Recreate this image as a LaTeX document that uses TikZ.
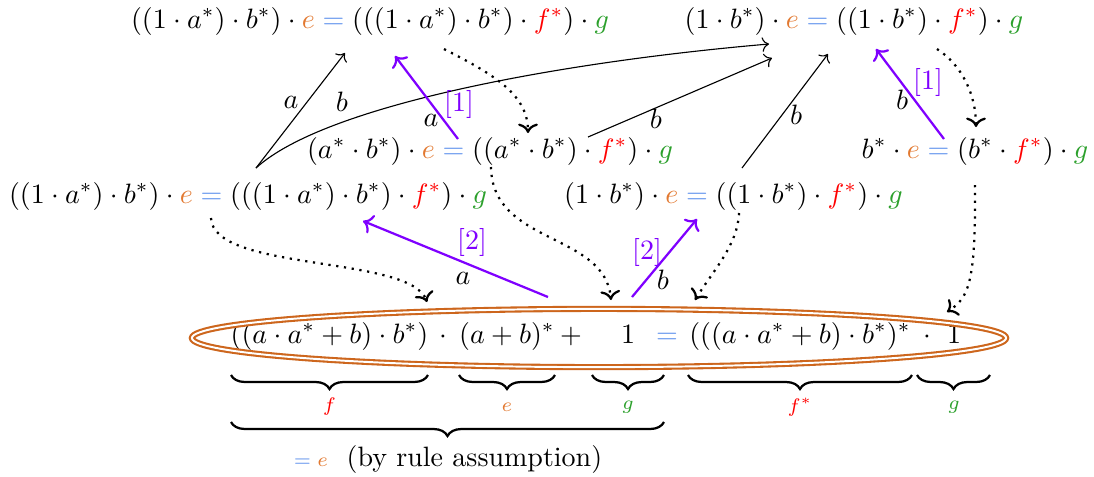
\documentclass[tikz,border=0pt]{standalone}
\usetikzlibrary{decorations.pathreplacing,arrows.meta,calc}
\definecolor{eor}{RGB}{226,121,49}
\definecolor{eqb}{RGB}{100,149,237}
\definecolor{gcol}{RGB}{44,160,44}
\definecolor{pur}{RGB}{127,0,255}
\definecolor{ellc}{RGB}{205,102,29}
\newcommand\ee{{\color{eor}e}}
\newcommand\eqq{\mathrel{\color{eqb}=}}
\newcommand\fs{{\color{red}f^*}}
\newcommand\gG{{\color{gcol}g}}
\begin{document}
\begin{tikzpicture}[x=0.35714pt,y=-0.35714pt,
  txt/.style={inner sep=0pt, anchor=base},
  lab/.style={inner sep=0pt},
  blk/.style={->},
  prp/.style={->, pur, thick},
  dot/.style={->, dotted, thick},
  brc/.style={decorate, decoration={brace, mirror, amplitude=5pt}, thick},
  sml/.style={inner sep=0pt, font=\scriptsize}]
\useasboundingbox (0,0) rectangle (1094,476);
% equations
\node[txt] (T1) at (370,28) {$((1\cdot a^*)\cdot b^*)\cdot\ee\eqq(((1\cdot a^*)\cdot b^*)\cdot\fs)\cdot\gG$};
\node[txt] (T2) at (854,28) {$(1\cdot b^*)\cdot\ee\eqq((1\cdot b^*)\cdot\fs)\cdot\gG$};
\node[txt] (M1) at (490,158) {$(a^*\cdot b^*)\cdot\ee\eqq((a^*\cdot b^*)\cdot\fs)\cdot\gG$};
\node[txt] (M2) at (975,158) {$b^*\cdot\ee\eqq(b^*\cdot\fs)\cdot\gG$};
\node[txt] (L1) at (248,203) {$((1\cdot a^*)\cdot b^*)\cdot\ee\eqq(((1\cdot a^*)\cdot b^*)\cdot\fs)\cdot\gG$};
\node[txt] (L2) at (733.5,203) {$(1\cdot b^*)\cdot\ee\eqq((1\cdot b^*)\cdot\fs)\cdot\gG$};
% bottom equation
\node[txt] (bf) at (329.5,343) {$((a\cdot a^*+b)\cdot b^*)$};
\node[txt] (bd1) at (443,343) {$\cdot$};
\node[txt] (be) at (507,343) {$(a+b)^*$};
\node[txt] (bp) at (571,343) {$+$};
\node[txt] (bg1) at (628,343) {$1$};
\node[txt] (beq) at (667,343) {$\eqq$};
\node[txt] (bfs) at (800,343) {$(((a\cdot a^*+b)\cdot b^*)^*$};
\node[txt] (bd2) at (927,343) {$\cdot$};
\node[txt] (bg2) at (954,343) {$1$};
\draw[ellc, line width=0.75pt, double=white, double distance=0.7pt] (599,338) ellipse [x radius=145.4pt, y radius=10.4pt];
% braces
\draw[brc] (231,375) -- (428,375);
\draw[brc] (459,375) -- (555,375);
\draw[brc] (592,375) -- (664,375);
\draw[brc] (688,375) -- (912,375);
\draw[brc] (917,375) -- (990,375);
\draw[brc] (231,422) -- (664,422);
\node[sml] (lf) at (329.5,407) {$\color{red}f$};
\node[sml] (le) at (507,407) {$\color{eor}e$};
\node[sml] (lg1) at (628,407) {$\color{gcol}g$};
\node[sml] (lfs) at (800,407) {$\color{red}f^*$};
\node[sml] (lg2) at (954,407) {$\color{gcol}g$};
\node[lab, anchor=base] (lr) at (448,466) {$\scriptstyle{\color{eqb}=}\;\ee$\ \ (by rule assumption)};
% black arrows
\coordinate (s1) at (256,168);
\coordinate (e1) at (345,53);
\coordinate (e2) at (769,44);
\coordinate (s3) at (588,137);
\coordinate (e3) at (772,58);
\coordinate (s4) at (742,168);
\coordinate (e4) at (828,54);
\draw[blk] (s1) -- (e1);
\draw[blk] (s1) .. controls (325,105) and (560,62) .. (e2);
\draw[blk] (s3) -- (e3);
\draw[blk] (s4) -- (e4);
\node[lab] (la1) at (291,102) {$a$};
\node[lab] (lb1) at (342,102) {$b$};
\node[lab] (lb3) at (656,119) {$b$};
\node[lab] (lb4) at (796,115) {$b$};
% purple arrows
\coordinate (p1s) at (458,139);
\coordinate (p1e) at (395,56);
\coordinate (p2s) at (944,139);
\coordinate (p2e) at (876,49);
\coordinate (p3s) at (548,297);
\coordinate (p3e) at (363,221);
\coordinate (p4s) at (632,297);
\coordinate (p4e) at (697,219);
\draw[prp] (p1s) -- (p1e);
\draw[prp] (p2s) -- (p2e);
\draw[prp] (p3s) -- (p3e);
\draw[prp] (p4s) -- (p4e);
\node[lab] (lp1a) at (431,120) {$a$};
\node[lab, text=pur] (lp1n) at (459,104) {[1]};
\node[lab] (lp2b) at (902,100) {$b$};
\node[lab, text=pur] (lp2n) at (928,82) {[1]};
\node[lab, text=pur] (lp3n) at (472,242) {[2]};
\node[lab] (lp3a) at (463,278) {$a$};
\node[lab, text=pur] (lp4n) at (647,252) {[2]};
\node[lab] (lp4b) at (663,280) {$b$};
% dotted arrows
\coordinate (d1s) at (444,49);
\coordinate (d1e) at (528,133);
\coordinate (d2s) at (937,49);
\coordinate (d2e) at (976,127);
\coordinate (d3s) at (211,218);
\coordinate (d3e) at (427,302);
\coordinate (d4s) at (491,167);
\coordinate (d4e) at (611,300);
\coordinate (d5s) at (739,213);
\coordinate (d5e) at (695,300);
\coordinate (d6s) at (975,185);
\coordinate (d6e) at (947,312);
\draw[dot] (d1s) .. controls (495,75) and (528,95) .. (d1e);
\draw[dot] (d2s) .. controls (962,65) and (976,95) .. (d2e);
\draw[dot] (d3s) .. controls (213,272) and (410,255) .. (d3e);
\draw[dot] (d4s) .. controls (492,245) and (605,232) .. (d4e);
\draw[dot] (d5s) .. controls (738,245) and (712,272) .. (d5e);
\draw[dot] (d6s) .. controls (976,285) and (968,298) .. (d6e);
\end{tikzpicture}
\end{document}
